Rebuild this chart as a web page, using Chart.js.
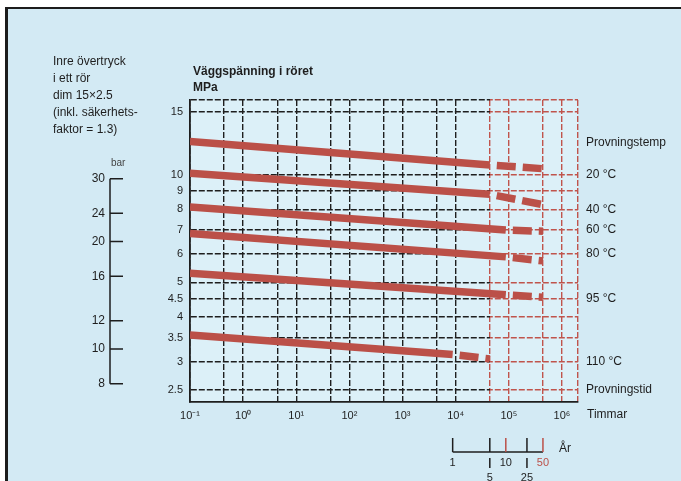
<!DOCTYPE html>
<html lang="sv">
<head>
<meta charset="utf-8">
<title>Väggspänning i röret</title>
<script src="https://cdn.jsdelivr.net/npm/chart.js@4/dist/chart.umd.min.js"></script>
<style>
	html, body { margin: 0; padding: 0; background: #fff; }
	#paper {
		position: absolute; left: 5px; top: 7px; width: 676px; height: 474px;
		box-sizing: border-box; background: #d3eaf4;
		border-top: 2px solid #1c1c1c; border-left: 3px solid #1c1c1c;
	}
	#chart { position: absolute; left: 0; top: 0; }
</style>
</head>
<body>
<div id="paper"></div>
<canvas id="chart" width="681" height="481"></canvas>
<script>
( function () {
	'use strict';

	// Provningstemperaturer och linjer (timmar / MPa)
	const temps          = [ '20 °C', '40 °C', '60 °C', '80 °C', '95 °C', '110 °C' ];
	const hoursStart     = [ 0.1, 0.1, 0.1, 0.1, 0.1, 0.1 ];
	const hoursSolidEnd  = [ 43800, 43800, 87600, 87600, 87600, 8760 ];
	const hoursDashEnd   = [ 438000, 438000, 438000, 438000, 438000, 43800 ];
	const stressStart    = [ 12.4, 10.1, 8.13, 6.85, 5.3, 3.56 ];
	const stressSolidEnd = [ 10.65, 8.82, 7.0, 5.89, 4.61, 3.14 ];
	const stressDashEnd  = [ 10.4, 8.25, 6.95, 5.74, 4.54, 3.05 ];

	// Axlar
	const stressTicks      = [ 2.5, 3, 3.5, 4, 4.5, 5, 6, 7, 8, 9, 10, 15 ];
	const pressureTicks    = [ 8, 10, 12, 16, 20, 24, 30 ];
	const hourDecades      = [ 0.1, 1, 10, 100, 1e3, 1e4, 1e5, 1e6 ];
	const hourLabels       = [ '10⁻¹', '10⁰', '10¹', '10²', '10³', '10⁴', '10⁵', '10⁶' ];
	const hourMidLines     = [ 0.438, 4.38, 43.8, 438, 4380, 43800, 438000 ];
	const rightTickValues  = [ 2.5, 3, 4.5, 6, 7, 8, 10, 12.3 ];
	const rightTickLabels  = [ 'Provningstid', '110 °C', '95 °C', '80 °C', '60 °C', '40 °C', '20 °C', 'Provningstemp' ];
	const yearTicks        = [ 1, 5, 10, 25, 50 ];
	const yearLabelLow     = [ false, true, false, true, false ];

	const X_MIN = 0.1, X_MAX = 2e6;
	const Y_MIN = 2.31, Y_MAX = 16.2;
	const HOURS_PER_YEAR = 8760;
	// tryck i bar = 2 * e * sigma / (D - e) / 1.3 * 10
	const BAR_PER_MPA = 2 * 2.5 / ( 15 - 2.5 ) / 1.3 * 10;

	const RED      = '#bb5048';
	const RED_GRID = '#c0544c';
	const DARK     = '#1e1e1e';
	const TEXT     = '#1e1e1e';
	const FONT     = "'Liberation Sans', Arial, sans-serif";

	const datasets = temps.map( ( t, i ) => ( {
		label: t,
		data: [
			{ x: hoursStart[ i ], y: stressStart[ i ] },
			{ x: hoursSolidEnd[ i ], y: stressSolidEnd[ i ] },
			{ x: hoursDashEnd[ i ], y: stressDashEnd[ i ] },
		],
		borderColor: RED,
		borderWidth: 7.5,
		borderCapStyle: 'butt',
		pointRadius: 0,
		tension: 0,
		segment: {
			borderDash: ctx => ctx.p0DataIndex === 1 ? [ 19, 7 ] : undefined,
			borderDashOffset: ctx => ctx.p0DataIndex === 1 ? 19 : 0,
		},
	} ) );

	const setTicks = values => scale => {
		scale.ticks = values.slice().sort( ( a, b ) => a - b ).map( v => ( { value: v } ) );
	};

	function hGridColor( ctx ) {
		const chart = ctx.chart;
		const area = chart.chartArea;
		if ( ! area || ! chart.scales.x ) {
			return DARK;
		}
		const split = chart.scales.x.getPixelForValue( 43800 );
		const t = Math.min( 1, Math.max( 0, ( split - area.left ) / ( area.right - area.left ) ) );
		const g = chart.ctx.createLinearGradient( area.left, 0, area.right, 0 );
		g.addColorStop( 0, DARK );
		g.addColorStop( t, DARK );
		g.addColorStop( t, RED_GRID );
		g.addColorStop( 1, RED_GRID );
		return g;
	}

	// -----------------------------------------------------------------------
	// Bakgrund i diagramytan
	// -----------------------------------------------------------------------
	const areaBg = {
		id: 'areaBg',
		beforeDraw( chart ) {
			const { ctx, chartArea: a } = chart;
			ctx.save();
			ctx.fillStyle = '#dcf0f8';
			ctx.fillRect( a.left, a.top, a.right - a.left, a.bottom - a.top );
			ctx.restore();
		},
	};

	// -----------------------------------------------------------------------
	// Texter, bar-skala och års-skala
	// -----------------------------------------------------------------------
	const extras = {
		id: 'extras',
		afterDraw( chart ) {
			const { ctx, chartArea: a, scales } = chart;
			ctx.save();
			ctx.fillStyle = TEXT;
			ctx.strokeStyle = TEXT;
			ctx.textBaseline = 'middle';

			// vänster textblock
			ctx.font = '12px ' + FONT;
			ctx.textAlign = 'left';
			[ 'Inre övertryck', 'i ett rör', 'dim 15×2.5', '(inkl. säkerhets-', 'faktor = 1.3)' ]
				.forEach( ( s, i ) => ctx.fillText( s, 53, 62 + i * 16.8 ) );

			// rubrik
			ctx.font = 'bold 12px ' + FONT;
			ctx.fillText( 'Väggspänning i röret', a.left + 3, 72 );
			ctx.fillText( 'MPa', a.left + 3, 88 );

			// bar-skala
			const yb = scales.yBar;
			const bx = yb.right - 50;
			const top = yb.getPixelForValue( pressureTicks[ pressureTicks.length - 1 ] );
			const bot = yb.getPixelForValue( pressureTicks[ 0 ] );
			ctx.lineWidth = 1.5;
			ctx.beginPath();
			ctx.moveTo( bx, top );
			ctx.lineTo( bx, bot );
			pressureTicks.forEach( v => {
				const y = yb.getPixelForValue( v );
				ctx.moveTo( bx, y );
				ctx.lineTo( bx + 13, y );
			} );
			ctx.stroke();
			ctx.font = '10px ' + FONT;
			ctx.fillStyle = '#444';
			ctx.fillText( 'bar', bx + 1, top - 15 );

			// Timmar
			ctx.fillStyle = TEXT;
			ctx.font = '12px ' + FONT;
			ctx.fillText( 'Timmar', a.right + 9, a.bottom + 13 );

			// års-skala
			const xs = scales.x;
			const base = 452;
			const x1 = xs.getPixelForValue( yearTicks[ 0 ] * HOURS_PER_YEAR );
			const x2 = xs.getPixelForValue( yearTicks[ yearTicks.length - 1 ] * HOURS_PER_YEAR );
			ctx.lineWidth = 1.5;
			ctx.strokeStyle = TEXT;
			ctx.beginPath();
			ctx.moveTo( x1, base );
			ctx.lineTo( x2, base );
			ctx.stroke();
			ctx.textAlign = 'center';
			ctx.font = '11px ' + FONT;
			yearTicks.forEach( ( yr, i ) => {
				const x = xs.getPixelForValue( yr * HOURS_PER_YEAR );
				ctx.strokeStyle = ( yr === 10 || yr === 50 ) ? RED : TEXT;
				ctx.beginPath();
				ctx.moveTo( x, base );
				ctx.lineTo( x, base - 14 );
				if ( yearLabelLow[ i ] ) {
					ctx.moveTo( x, base + 6 );
					ctx.lineTo( x, base + 16 );
				}
				ctx.stroke();
				ctx.fillStyle = yr === 50 ? RED : TEXT;
				ctx.fillText( String( yr ), x, yearLabelLow[ i ] ? base + 26 : base + 11 );
			} );
			ctx.fillStyle = TEXT;
			ctx.textAlign = 'left';
			ctx.font = '12px ' + FONT;
			ctx.fillText( 'År', x2 + 16, base - 3 );

			ctx.restore();
		},
	};

	new Chart( document.getElementById( 'chart' ), {
		type: 'line',
		data: { datasets },
		plugins: [ areaBg, extras ],
		options: {
			responsive: false,
			animation: false,
			layout: { padding: { left: 60, right: 8, top: 100, bottom: 59 } },
			plugins: {
				legend: { display: false },
				tooltip: { enabled: false },
			},
			scales: {
				x: {
					type: 'logarithmic',
					min: X_MIN,
					max: X_MAX,
					afterBuildTicks: setTicks( hourDecades.concat( hourMidLines, [ X_MAX ] ) ),
					afterFit: s => { s.height = 20; },
					ticks: {
						autoSkip: false,
						maxRotation: 0,
						padding: 7,
						color: TEXT,
						font: { family: FONT, size: 11 },
						callback: v => {
							const i = hourDecades.indexOf( v );
							return i >= 0 ? hourLabels[ i ] : '';
						},
					},
					grid: {
						drawTicks: false,
						lineWidth: 1.4,
						color: ctx => ( ctx.tick && ctx.tick.value >= 43800 ) ? RED_GRID : DARK,
					},
					border: { display: true, color: DARK, width: 1.8, dash: [ 6, 2 ] },
				},
				y: {
					type: 'logarithmic',
					position: 'left',
					weight: 0,
					min: Y_MIN,
					max: Y_MAX,
					afterBuildTicks: setTicks( stressTicks.concat( [ Y_MAX ] ) ),
					afterFit: s => { s.width = 30; },
					ticks: {
						autoSkip: false,
						padding: 7,
						color: TEXT,
						font: { family: FONT, size: 11 },
						callback: v => stressTicks.indexOf( v ) >= 0 ? String( v ) : '',
					},
					grid: { drawTicks: false, lineWidth: 1.4, color: hGridColor },
					border: { display: true, color: DARK, width: 1.8, dash: [ 6, 2 ] },
				},
				yBar: {
					type: 'logarithmic',
					position: 'left',
					weight: 1,
					min: Y_MIN * BAR_PER_MPA,
					max: Y_MAX * BAR_PER_MPA,
					afterBuildTicks: setTicks( pressureTicks ),
					afterFit: s => { s.width = 100; },
					ticks: {
						autoSkip: false,
						padding: 55,
						color: TEXT,
						font: { family: FONT, size: 12 },
						callback: v => String( v ),
					},
					grid: { display: false, drawTicks: false },
					border: { display: false },
				},
				yRight: {
					type: 'logarithmic',
					position: 'right',
					min: Y_MIN,
					max: Y_MAX,
					afterBuildTicks: setTicks( rightTickValues ),
					afterFit: s => { s.width = 95; },
					ticks: {
						autoSkip: false,
						padding: 8,
						color: TEXT,
						font: { family: FONT, size: 12 },
						callback: v => {
							const i = rightTickValues.indexOf( v );
							return i >= 0 ? rightTickLabels[ i ] : '';
						},
					},
					grid: { display: false, drawTicks: false },
					border: { display: false },
				},
			},
		},
	} );
} )();
</script>
</body>
</html>
